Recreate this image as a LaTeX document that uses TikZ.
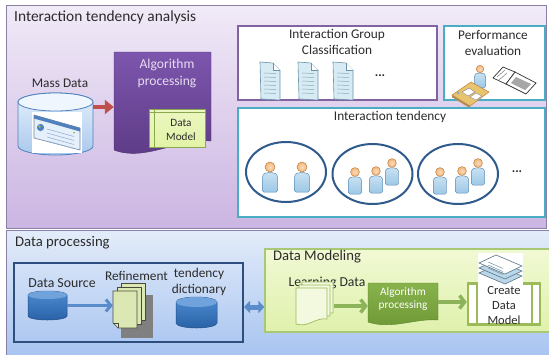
\documentclass[tikz,border=0pt]{standalone}
\usepackage{fontspec}
\setmainfont{Carlito}
\usetikzlibrary{arrows.meta,calc,shapes.geometric}

\definecolor{panelline}{HTML}{8A80A6}
\definecolor{lavtop}{HTML}{F1EAF7}
\definecolor{lavbot}{HTML}{CBB5E2}
\definecolor{skytop}{HTML}{E3ECF9}
\definecolor{skybot}{HTML}{A5C2F0}
\definecolor{grpline}{HTML}{8064A2}
\definecolor{tealline}{HTML}{4BACC6}
\definecolor{ringblue}{HTML}{2F5A8C}
\definecolor{navyline}{HTML}{2E4E7E}
\definecolor{txt}{HTML}{2B2B2B}
\definecolor{violtop}{HTML}{7D56AD}
\definecolor{violbot}{HTML}{5C3A85}
\definecolor{violtext}{HTML}{E6DCF0}
\definecolor{limefill}{HTML}{E2F3A6}
\definecolor{limeline}{HTML}{9BBB59}
\definecolor{arrowred}{HTML}{C0504D}
\definecolor{cylline}{HTML}{4F81BD}
\definecolor{cyltop}{HTML}{E6F0FB}
\definecolor{cylbot}{HTML}{A9C8EC}
\definecolor{drumtop}{HTML}{4C8CD2}
\definecolor{drumbot}{HTML}{2A62A6}
\definecolor{flowblue}{HTML}{5A8CCB}
\definecolor{modtop}{HTML}{F1F9D4}
\definecolor{modbot}{HTML}{DFF1AC}
\definecolor{modline}{HTML}{A9C873}
\definecolor{leaftop}{HTML}{88B24C}
\definecolor{leafbot}{HTML}{6C9834}
\definecolor{leafarrow}{HTML}{8DB45A}
\definecolor{sheetfill}{HTML}{F3F9DF}
\definecolor{paperblue}{HTML}{D6EBF3}
\definecolor{paperline}{HTML}{6E93A8}
\definecolor{skin}{HTML}{F2B77A}
\definecolor{skinline}{HTML}{C08040}
\definecolor{shirt}{HTML}{9CC8E6}
\definecolor{shirtline}{HTML}{5E90B8}
\definecolor{reffill}{HTML}{DCE8B4}
\definecolor{refline}{HTML}{4A4A3A}
\definecolor{deskfill}{HTML}{E9C46E}

\tikzset{
  panel/.style={draw=panelline, line width=0.8pt, inner sep=0pt},
  box/.style={inner sep=0pt},
  hidden/.style={inner sep=0pt},
  maintitle/.style={font=\fontsize{15.4}{18}\selectfont, text=txt, anchor=west, inner sep=0pt},
  heading/.style={font=\fontsize{14.7}{17}\selectfont, text=txt, anchor=west, inner sep=0pt},
  body/.style={font=\fontsize{13.3}{16}\selectfont, text=txt, align=center, inner sep=0pt},
  small/.style={font=\fontsize{11.5}{13}\selectfont, align=center, inner sep=0pt},
  ring/.style={draw=ringblue, line width=2pt, ellipse, inner sep=0pt, minimum width=80pt, minimum height=60pt},
  redarrow/.style={draw=arrowred, line width=4.5pt, -{Triangle[length=9pt,width=14pt]}},
  flowarrow/.style={draw=flowblue, line width=3pt, -{Straight Barb[length=5pt,width=12pt]}},
  leafflow/.style={draw=leafarrow, line width=3.5pt, -{Straight Barb[length=5pt,width=13pt]}},
  dblarrow/.style={draw=flowblue, line width=5pt, {Triangle[length=6pt,width=12pt]}-{Triangle[length=6pt,width=12pt]}},
  pics/person/.style={code={
    \draw[shirtline, line width=0.5pt, top color=shirt!55!white, bottom color=shirt, rounded corners=1.5pt]
      (-7.5,25) -- (-7.5,12) .. controls (-7.5,6.5) and (-4,5.5) .. (0,5.5)
      .. controls (4,5.5) and (7.5,6.5) .. (7.5,12) -- (7.5,25) -- cycle;
    \draw[skinline, line width=0.5pt, inner color=skin!50!white, outer color=skin] (0,0) circle (5);
  }},
  pics/page/.style={code={
    \draw[paperline, line width=0.6pt, fill=paperblue] (0,0) -- (13,1) -- (20,8) -- (20,38) -- (1,37) -- cycle;
    \draw[paperline, line width=0.6pt, fill=white] (13,1) -- (13,8) -- (20,8);
    \foreach \k in {11,15,...,31} \draw[paperline!80, line width=0.5pt] (4,\k) -- (16,\k+0.5);
  }},
  pics/sheet/.style={code={
    \draw[limeline, line width=0.7pt, fill=sheetfill]
      (0,0) -- (31,0) -- (31,31) .. controls (20,29) and (12,40) .. (0,36) -- cycle;
  }},
}

\begin{document}
\begin{tikzpicture}[x=1pt,y=-1pt]
\useasboundingbox (0,0) rectangle (549,354);
\clip (0,0) rectangle (549,354);
\fill[white] (0,0) rectangle (549,354);

% ================= upper panel =================
\node[panel, top color=lavtop, bottom color=lavbot, minimum width=540pt, minimum height=223pt] (upper) at (276,116.5) {};
\node[maintitle] (uppertitle) at (14,17.5) {Interaction tendency analysis};

% --- Mass Data drum ---
\node[hidden, minimum width=75pt, minimum height=62pt] (mass) at (55.5,124) {};
\draw[cylline, line width=0.8pt, top color=cyltop, bottom color=cylbot]
  (18,102) -- (18,146) arc[start angle=180, end angle=0, x radius=37.5, y radius=9]
  -- (93,102) arc[start angle=0, end angle=-180, x radius=37.5, y radius=9] -- cycle;
\draw[cylline, line width=0.8pt, fill=cyltop!60!white] (55.5,102) ellipse[x radius=37.5, y radius=9];
\node[body] (masslabel) at (60,83) {Mass Data};
% web page picture on the drum
\fill[white] (32,112) rectangle (82,153);
\draw[navyline!70, line width=0.6pt, fill=cyltop] (34,115) -- (80,128) -- (80,150) -- (34,138) -- cycle;
\fill[cylline] (34,115) -- (80,128) -- (80,131.5) -- (34,118.5) -- cycle;
\fill[cylline] (40.5,127.5) circle (3.6);
\fill[limeline] (39.5,126.5) circle (1.3);
\fill[limeline] (74,132.5) circle (1);
\foreach \k in {0,4,8,12} \draw[cylline!60, line width=0.6pt] (47,129+\k) -- (74,136.5+\k);

% --- Algorithm processing (violet document) ---
\node[hidden, minimum width=97pt, minimum height=98pt] (algo) at (162.5,101) {};
\draw[violbot!85!black, line width=0.4pt, top color=violtop, bottom color=violbot]
  (114,52) -- (211,52) -- (211,141)
  .. controls (178,138) and (145,162) .. (114,150) -- cycle;
\node[body, text=violtext, font=\fontsize{13.6}{17}\selectfont] (algotext) at (167,73.5) {Algorithm\\processing};
\node[box, draw=limeline!90!black, line width=0.8pt, top color=limefill!70!white, bottom color=limefill,
      minimum width=56pt, minimum height=38pt] (dmodel) at (177,128) {};
\draw[limeline!90!black, line width=0.6pt] (dmodel.north west) ++(6,0) -- ++(0,38);
\draw[limeline!90!black, line width=0.6pt] (dmodel.north west) ++(0,4) -- ++(56,0);
\node[small, text=txt, font=\fontsize{11.2}{14}\selectfont] (dmodeltext) at (181,130) {Data\\Model};

\coordinate (redstart) at ($(mass.east)+(0,-17)$);
\draw[redarrow] (redstart) -- (redstart -| algo.west);

% --- Interaction Group Classification ---
\node[box, draw=grpline, line width=2pt, fill=white, minimum width=199pt, minimum height=74pt] (igc) at (337.5,63) {};
\node[body] (igctext) at (337,41.5) {Interaction Group\\Classification};
\pic (doc1) at (260,62) {page};
\pic (doc2) at (298,62) {page};
\pic (doc3) at (333,62) {page};
\node[body, font=\bfseries\fontsize{13}{14}\selectfont] (igcdots) at (380,76) {...};

% --- Performance evaluation ---
\node[box, draw=tealline, line width=2pt, fill=white, minimum width=101pt, minimum height=74pt] (perf) at (494.5,63) {};
\node[body] (perftext) at (493,43) {Performance\\evaluation};
% clerk at a desk
\pic[scale=0.75] (clerk) at (480,69) {person};
\draw[skinline, line width=0.5pt, fill=deskfill] (452,95) -- (471,82) -- (489,92) -- (470,106) -- cycle;
\draw[skinline!80, line width=0.4pt, fill=deskfill!70!black] (452,95) -- (470,106) -- (470,108) -- (452,97) -- cycle;
\draw[gray, line width=0.4pt, fill=white] (462,92) -- (469,88) -- (475,92) -- (468,96) -- cycle;
\draw[gray, line width=0.4pt, fill=white] (470,97) -- (476,93) -- (482,96) -- (476,100) -- cycle;
\fill[cylline!70] (458,93) circle (1.5);
% folded chart sheet
\draw[black!80, line width=0.7pt, fill=white] (493,78) -- (503,67) -- (515,72) -- (506,84) -- cycle;
\draw[black!80, line width=0.7pt, fill=white] (506,84) -- (515,72) -- (536,83) -- (526,94) -- cycle;
\fill[gray!70] (511,83) -- (516,77) -- (531,84) -- (525,90) -- cycle;
\draw[black!60, line width=0.4pt] (497,77) -- (505,70) (499,80) -- (507,73);

% --- Interaction tendency ---
\node[box, draw=tealline, line width=2pt, fill=white, minimum width=307pt, minimum height=109pt] (tend) at (391.5,162.5) {};
\node[body] (tendtext) at (390,117) {Interaction tendency};
\node[ring] (g1) at (286,172) {};
\node[ring] (g2) at (372.5,174) {};
\node[ring] (g3) at (458,174) {};
\pic (p11) at (270,167) {person};
\pic (p12) at (302,167) {person};
\pic[scale=0.88] (p23) at (392,163) {person};
\pic[scale=0.88] (p21) at (355,172) {person};
\pic[scale=0.88] (p22) at (376,171) {person};
\pic[scale=0.88] (p33) at (478,163) {person};
\pic[scale=0.88] (p31) at (440,172) {person};
\pic[scale=0.88] (p32) at (462,171) {person};
\node[body, font=\bfseries\fontsize{13}{14}\selectfont] (tenddots) at (517,172) {...};

% ================= lower panel =================
\node[panel, top color=skytop, bottom color=skybot, minimum width=550pt, minimum height=132pt] (lower) at (281,296) {};
\node[heading] (lowertitle) at (15,242.5) {Data processing};

% --- data processing frame ---
\node[box, draw=navyline, line width=2pt, minimum width=229pt, minimum height=79pt] (dp) at (128.5,302.5) {};
\node[body, font=\fontsize{13.8}{16}\selectfont] (srclabel) at (62,283) {Data Source};
\node[hidden, minimum width=39pt, minimum height=29pt] (src) at (47.5,305.5) {};
\draw[drumbot!80!black, line width=0.5pt, top color=drumtop, bottom color=drumbot]
  (28,295) -- (28,316) arc[start angle=180, end angle=0, x radius=19.5, y radius=4]
  -- (67,295) arc[start angle=0, end angle=-180, x radius=19.5, y radius=4] -- cycle;
\fill[drumtop!80!white] (47.5,295) ellipse[x radius=19.5, y radius=4];

% refinement stack
\node[hidden, minimum width=32pt, minimum height=45pt] (ref) at (129,306) {};
\fill[black!50] (121,295) rectangle (153,338);
\draw[refline, line width=0.6pt, fill=reffill] (121,283) rectangle (145,320);
\draw[refline, line width=0.6pt, fill=reffill] (117,287) rectangle (141,324);
\draw[refline, line width=0.6pt, fill=reffill] (113,291) -- (137,291) -- (137,328) -- (118,328) -- (113,323) -- cycle;
\draw[refline, line width=0.6pt] (113,323) -- (118,323) -- (118,328);
\node[body] (reflabel) at (136.5,276) {Refinement};
\draw[flowarrow] (src.east) -- (src.east -| ref.west);

% tendency dictionary drum
\node[body] (dictlabel) at (199,282) {tendency\\dictionary};
\node[hidden, minimum width=41pt, minimum height=31pt] (dict) at (196.5,312.5) {};
\draw[drumbot!80!black, line width=0.5pt, top color=drumtop, bottom color=drumbot]
  (176,302) -- (176,323) arc[start angle=180, end angle=0, x radius=20.5, y radius=5]
  -- (217,302) arc[start angle=0, end angle=-180, x radius=20.5, y radius=5] -- cycle;
\fill[drumtop!80!white] (196.5,302) ellipse[x radius=20.5, y radius=5];

% --- Data Modeling ---
\node[box, draw=modline, line width=1.2pt, top color=modtop, bottom color=modbot, minimum width=290pt, minimum height=83pt] (dm) at (410,290.5) {};
\node[heading] (dmtitle) at (273,256.5) {Data Modeling};

\coordinate (dbl) at ($(dp.east)+(0,4.5)$);
\draw[dblarrow] (dbl) -- (dbl -| dm.west);

% learning data sheets
\node[body, font=\fontsize{13.7}{16}\selectfont] (learnlabel) at (327,283) {Learning Data};
\node[hidden, minimum width=37pt, minimum height=37pt] (learn) at (315,306) {};
\pic (sheet3) at (302,282) {sheet};
\pic (sheet2) at (299,285) {sheet};
\pic (sheet1) at (296,288) {sheet};

% green algorithm step
\node[hidden, minimum width=70pt, minimum height=38pt] (algo2) at (403,302) {};
\draw[leafbot!85!black, line width=0.4pt, top color=leaftop, bottom color=leafbot]
  (368,283) -- (438,283) -- (438,320)
  .. controls (415,318) and (392,330) .. (368,322) -- cycle;
\node[small, text=white, font=\fontsize{11.3}{12.5}\selectfont] (algo2text) at (403,299) {Algorithm\\processing};

% create data model
\node[box, draw=limeline, line width=2.5pt, fill=white, minimum width=72pt, minimum height=41pt] (create) at (504,304) {};
\draw[limeline, line width=2pt] (create.north west) ++(10,0) -- ++(0,41);
\draw[limeline, line width=2pt] (create.north east) ++(-9,0) -- ++(0,41);
\node[body, font=\fontsize{12.5}{15}\selectfont] (createtext) at (504,305) {Create\\Data\\Model};
% stacked sheets picture above it
\fill[white] (478,253) rectangle (523,285.5);
\foreach \dy/\col in {10/paperblue!80!cylline, 5/paperblue!80!cylline, 0/white} {
  \draw[paperline!80!black, line width=0.6pt, fill=\col]
    (479,263+\dy) -- (496,255+\dy) -- (522,266+\dy) -- (505,274+\dy) -- cycle;
}
\foreach \k in {0,3,6} \draw[paperline, line width=0.5pt] (488,262+\k) -- (503,268.5+\k);

\draw[leafflow] (learn.east) -- (learn.east -| algo2.west);
\draw[leafflow] (algo2.east) -- (algo2.east -| create.west);

\end{tikzpicture}
\end{document}
